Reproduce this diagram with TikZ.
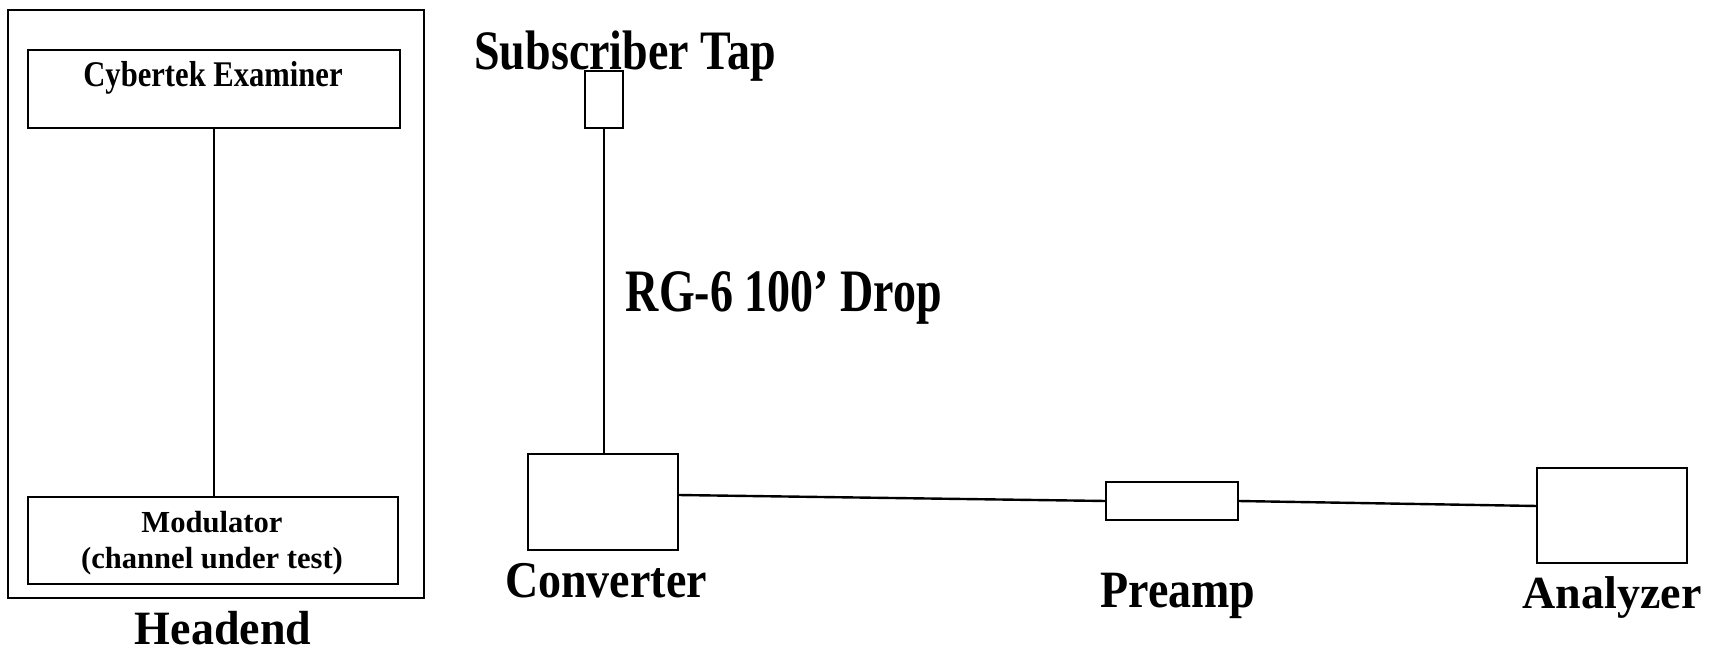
\documentclass[tikz,border=0pt]{standalone}
\usepackage{graphicx}
\usepackage{fontspec}
\setmainfont{Liberation Serif}
\usetikzlibrary{calc}
\begin{document}
\begin{tikzpicture}[x=0.5pt,y=-0.5pt,
  box/.style={draw,line width=1.2pt,inner sep=0pt,outer sep=0pt},
  wire/.style={line width=1.2pt},
  lbl/.style={inner sep=0pt,anchor=base,font=\bfseries\fontsize{23}{27}\selectfont},
  sml/.style={inner sep=0pt,anchor=base,font=\bfseries\fontsize{15.3}{18}\selectfont}]
\useasboundingbox[fill=white] (0,0) rectangle (1712,651);

% Headend frame and its boxes
\node[box,minimum width=208pt,minimum height=294pt] (frame) at (216,304) {};
\node[box,minimum width=186pt,minimum height=39pt] (cyber) at (214,89) {};
\node[box,minimum width=185pt,minimum height=43.5pt] (mod) at (213,540.5) {};
\node[sml] (cybert) at (213,87) {\scalebox{1}[1.18]{Cybertek Examiner}};
\node[sml] (modt) at (212,532) {Modulator};
\node[sml] (chant) at (212,568) {(channel under test)};
\node[lbl] (headt) at (223,644) {\scalebox{1}[1.04]{Headend}};

% Subscriber side
\node[box,minimum width=19pt,minimum height=28.5pt] (tap) at (604,99.5) {};
\node[box,minimum width=75pt,minimum height=48pt] (conv) at (603,502) {};
\node[box,minimum width=66pt,minimum height=19pt] (pre) at (1172,501) {};
\node[box,minimum width=75pt,minimum height=47.5pt] (ana) at (1612,515.5) {};

\node[lbl] (tapt) at (625,70) {\scalebox{1}[1.21]{Subscriber Tap}};
\node[lbl] (dropt) at (784,312) {\scalebox{1}[1.31]{RG-6 100’ Drop}};
\node[lbl] (convt) at (606,597) {\scalebox{1}[1.12]{Converter}};
\node[lbl] (pret) at (1178,607) {\scalebox{1}[1.14]{Preamp}};
\node[lbl] (anat) at (1612,608) {Analyzer};

% Connectors
\draw[wire] (cyber.south) -- (cyber.south |- mod.north);
\draw[wire] (tap.south) -- (tap.south |- conv.north);
\draw[wire] ($(conv.east)+(0,-7)$) -- (pre.west);
\draw[wire] (pre.east) -- ($(ana.west)+(0,-9.5)$);
\end{tikzpicture}
\end{document}
